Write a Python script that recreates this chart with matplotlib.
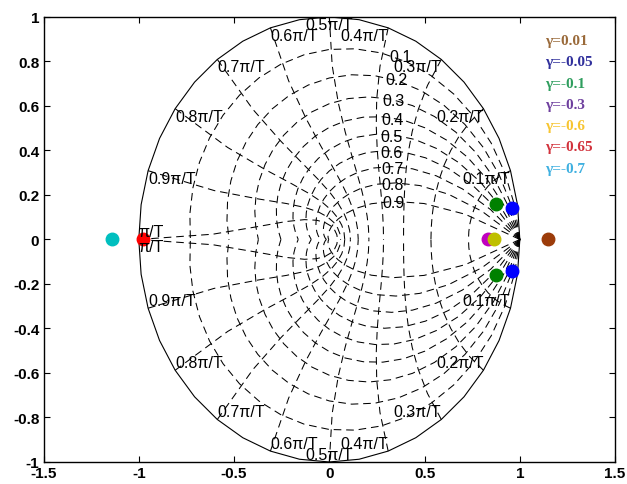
import numpy as np
import matplotlib.pyplot as plt

plt.rcParams['lines.scale_dashes'] = False

# z-plane grid: damping ratios and natural frequencies (units of pi/T)
zeta = [0.1, 0.2, 0.3, 0.4, 0.5, 0.6, 0.7, 0.8, 0.9]
wn = [0.1, 0.2, 0.3, 0.4, 0.5, 0.6, 0.7, 0.8, 0.9, 1.0]

# closed loop poles for each gamma
gammas = ['0.01', '-0.05', '-0.1', '-0.3', '-0.6', '-0.65', '-0.7']
pole_re = [[1.148], [0.961, 0.961], [0.875, 0.875], [0.835], [0.866], [-0.98], [-1.139]]
pole_im = [[0.0], [0.14, -0.14], [0.16, -0.16], [0.0], [0.0], [0.0], [0.0]]

dot_colors = ['#9c3c0a', '#0000ff', '#008000', '#bf00bf', '#bfbf00', '#ff0000', '#00bfbf']
text_colors = ['#9a6a3a', '#30309c', '#2f9e5e', '#6e3f9e', '#f7c531', '#d2323c', '#3fb0e0']

fig = plt.figure(figsize=(6.27, 4.85), dpi=100)
ax = fig.add_axes([0.0694, 0.0454, 0.9116, 0.9176])

dash = (0, (5.5, 3.5))

# unit circle (zeta = 0), coarse like matlab
th = np.arange(0, 21) * np.pi / 20
circ = np.exp(1j * th)
ax.plot(circ.real, circ.imag, 'k-', lw=0.8)
ax.plot(circ.real, -circ.imag, 'k-', lw=0.8)

# damping lines
for z0 in zeta:
    m = z0 / np.sqrt(1 - z0 ** 2)
    zz = np.exp(th * (-m + 1j))
    ax.plot(zz.real, zz.imag, color='k', lw=0.75, ls=dash)
    ax.plot(zz.real, -zz.imag, color='k', lw=0.75, ls=dash)
    # label near where the line meets the 0.4pi/T curve
    w = 0.4 * np.pi
    p = np.exp(-z0 * w + 1j * w * np.sqrt(1 - z0 ** 2))
    ax.annotate('%g' % z0, (p.real, p.imag), xytext=((1 - z0) * 6, -(1 - z0) * 3),
                textcoords='offset points', ha='left', va='center',
                fontsize=11.5, family='Liberation Sans')

# natural frequency lines
phi = np.arange(10, 21) * np.pi / 20
for w in wn:
    zw = np.exp(w * np.pi * np.exp(1j * phi))
    ax.plot(zw.real, zw.imag, color='k', lw=0.75, ls=dash)
    ax.plot(zw.real, -zw.imag, color='k', lw=0.75, ls=dash)
    p = np.exp(1j * w * np.pi)
    lab = 'π/T' if w == 1 else '%gπ/T' % w
    if w < 0.5:
        ha = 'right'
    elif w == 0.5:
        ha = 'center'
    else:
        ha = 'left'
    if w == 1:
        vu, vl = 'bottom', 'top'
    else:
        vu, vl = 'top', 'bottom'
    ax.text(p.real, p.imag, lab, ha=ha, va=vu, fontsize=11.5, family='Liberation Sans')
    ax.text(p.real, -p.imag, lab, ha=ha, va=vl, fontsize=11.5, family='Liberation Sans')

# poles
for re, im, c in zip(pole_re, pole_im, dot_colors):
    ax.plot(re, im, 'o', color=c, ms=9, mec=c)

# coloured text legend
for i, (g, c) in enumerate(zip(gammas, text_colors)):
    ax.text(0.8775, 0.947 - i * 0.0478, 'γ=' + g, transform=ax.transAxes,
            color=c, fontsize=11, fontweight='bold', family='Liberation Serif',
            ha='left', va='center')

ax.set_xlim(-1.5, 1.5)
ax.set_ylim(-1, 1)
ax.set_xticks(np.arange(-1.5, 1.51, 0.5))
ax.set_yticks(np.round(np.arange(-1, 1.01, 0.2), 1))
ax.set_xticklabels(['-1.5', '-1', '-0.5', '0', '0.5', '1', '1.5'])
ax.set_yticklabels(['-1', '-0.8', '-0.6', '-0.4', '-0.2', '0', '0.2', '0.4', '0.6', '0.8', '1'])
ax.tick_params(direction='in', top=True, right=True, length=4, width=0.8, pad=3)
for lbl in ax.get_xticklabels() + ax.get_yticklabels():
    lbl.set_fontsize(11)
    lbl.set_fontweight('bold')
    lbl.set_family('Liberation Sans')
for s in ax.spines.values():
    s.set_linewidth(1.0)

fig.savefig('out.png', dpi=100)
